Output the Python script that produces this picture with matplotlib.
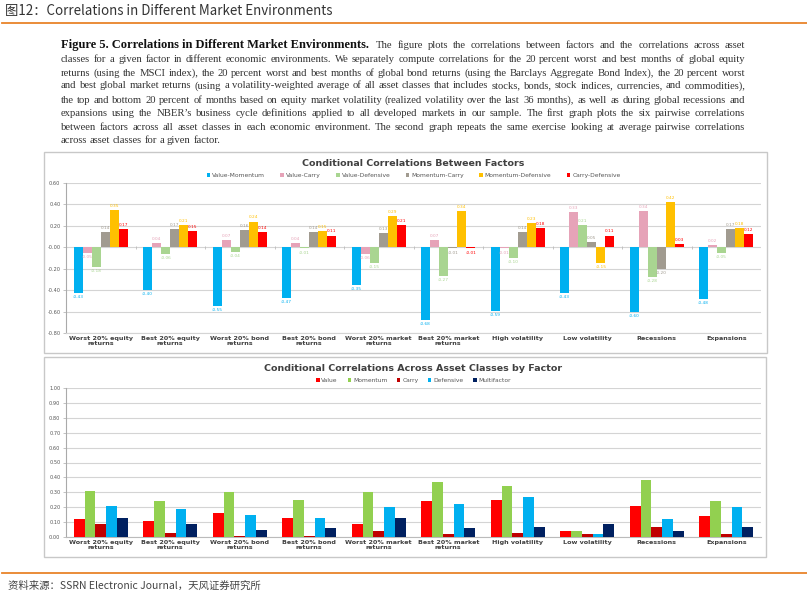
import numpy as np
import matplotlib
matplotlib.use("Agg")
import matplotlib.pyplot as plt
from matplotlib.patches import Rectangle
from matplotlib.lines import Line2D

# Data
categories = ["Worst 20% equity\nreturns", "Best 20% equity\nreturns", "Worst 20% bond\nreturns",
              "Best 20% bond\nreturns", "Worst 20% market\nreturns", "Best 20% market\nreturns",
              "High volatility", "Low volatility", "Recessions", "Expansions"]

pair_names = ["Value-Momentum", "Value-Carry", "Value-Defensive", "Momentum-Carry",
              "Momentum-Defensive", "Carry-Defensive"]
value_momentum = [-0.43, -0.40, -0.55, -0.47, -0.35, -0.68, -0.59, -0.43, -0.60, -0.48]
value_carry = [-0.05, 0.04, 0.07, 0.04, -0.06, 0.07, -0.01, 0.33, 0.34, 0.02]
value_defensive = [-0.18, -0.06, -0.04, -0.01, -0.15, -0.27, -0.10, 0.21, -0.28, -0.05]
momentum_carry = [0.14, 0.17, 0.16, 0.14, 0.13, -0.01, 0.14, 0.05, -0.20, 0.17]
momentum_defensive = [0.35, 0.21, 0.24, 0.15, 0.29, 0.34, 0.23, -0.15, 0.42, 0.18]
carry_defensive = [0.17, 0.15, 0.14, 0.11, 0.21, -0.01, 0.18, 0.11, 0.03, 0.12]

factor_names = ["Value", "Momentum", "Carry", "Defensive", "Multifactor"]
value_corr = [0.12, 0.11, 0.16, 0.13, 0.09, 0.24, 0.25, 0.04, 0.21, 0.14]
momentum_corr = [0.31, 0.24, 0.30, 0.25, 0.30, 0.37, 0.34, 0.04, 0.38, 0.24]
carry_corr = [0.09, 0.03, 0.005, 0.01, 0.04, 0.02, 0.03, 0.02, 0.07, 0.02]
defensive_corr = [0.21, 0.19, 0.15, 0.13, 0.20, 0.22, 0.27, 0.02, 0.12, 0.20]
multifactor_corr = [0.13, 0.09, 0.05, 0.06, 0.13, 0.06, 0.07, 0.09, 0.04, 0.07]

header = "图12：Correlations in Different Market Environments"
source = "资料来源：SSRN Electronic Journal，天风证券研究所"
para_bold = "Figure 5. Correlations in Different Market Environments."
para_lines = [
    "The figure plots the correlations between factors and the correlations across asset",
    "classes for a given factor in different economic environments. We separately compute correlations for the 20 percent worst and best months of global equity",
    "returns (using the MSCI index), the 20 percent worst and best months of global bond returns (using the Barclays Aggregate Bond Index), the 20 percent worst",
    "and best global market returns (using a volatility-weighted average of all asset classes that includes stocks, bonds, stock indices, currencies, and commodities),",
    "the top and bottom 20 percent of months based on equity market volatility (realized volatility over the last 36 months), as well as during global recessions and",
    "expansions using the NBER\u2019s business cycle definitions applied to all developed markets in our sample. The first graph plots the six pairwise correlations",
    "between factors across all asset classes in each economic environment. The second graph repeats the same exercise looking at average pairwise correlations",
    "across asset classes for a given factor.",
]

W, H = 807, 595
fig = plt.figure(figsize=(W / 100, H / 100), dpi=100)
fig.patch.set_facecolor("white")
cjk = ["Noto Sans CJK SC", "DejaVu Sans"]


def px(x, y):
    return x / W, 1 - y / H


def add_axes_px(x0, y0, x1, y1):
    return fig.add_axes([x0 / W, 1 - y1 / H, (x1 - x0) / W, (y1 - y0) / H])


# header and footer
fig.text(*px(5, 11), header, family=cjk, fontsize=9.6, color="#333333", va="center", ha="left")
fig.add_artist(Line2D([2 / W, 1], [1 - 23 / H] * 2, color="#E8832A", lw=1.3))
fig.add_artist(Line2D([2 / W, 1], [1 - 573 / H] * 2, color="#E8832A", lw=1.3))
fig.text(*px(8, 586), source, family=cjk, fontsize=7.5, color="#444444", va="center", ha="left")

# paragraph, justified word by word
fig.canvas.draw()
renderer = fig.canvas.get_renderer()
left_px, right_px = 61, 745
line_y = [45, 59, 73, 86, 100, 113, 127, 140]
serif = "Liberation Serif"


def width_of(t):
    return t.get_window_extent(renderer).width


bold_t = fig.text(*px(left_px, line_y[0]), para_bold, family=serif, fontsize=9.0,
                  weight="bold", color="#111111", va="center")
start0 = left_px + width_of(bold_t) + 7
for i, line in enumerate(para_lines):
    x_start = start0 if i == 0 else left_px
    words = line.split(" ")
    arts = [fig.text(0, 0, w, family=serif, fontsize=7.7, color="#333333", va="center") for w in words]
    widths = [width_of(a) for a in arts]
    if i < len(para_lines) - 1 and len(words) > 1:
        gap = (right_px - x_start - sum(widths)) / (len(words) - 1)
    else:
        gap = 2.6
    x = x_start
    for a, w in zip(arts, widths):
        a.set_position(px(x, line_y[i]))
        x += w + gap

# chart frames
for (x0, y0, x1, y1) in [(44, 152, 767, 353), (44, 357, 766, 557)]:
    fig.add_artist(Rectangle((x0 / W, 1 - y1 / H), (x1 - x0) / W, (y1 - y0) / H,
                             fill=False, edgecolor="#C8C8C8", lw=1.0))

label_font = dict(fontsize=4.6, color="#404040", weight="bold")
xs = np.arange(len(categories))

# top chart
ax1 = add_axes_px(66, 183, 761, 333)
pair_series = [value_momentum, value_carry, value_defensive, momentum_carry, momentum_defensive, carry_defensive]
pair_colors = ["#00B0F0", "#E6A3B8", "#A9D591", "#A19B90", "#FFC000", "#FF0000"]
bw = 0.13
for k, (vals, col, name) in enumerate(zip(pair_series, pair_colors, pair_names)):
    pos = xs + (k - 2.5) * bw
    ax1.bar(pos, vals, bw, color=col, label=name, zorder=3)
    for p, v in zip(pos, vals):
        off = 0.02 if v >= 0 else -0.02
        ax1.text(p, v + off, "%.2f" % v, fontsize=3.1, color=col, ha="center",
                 va="bottom" if v >= 0 else "top", zorder=4)
ax1.set_xlim(-0.5, len(categories) - 0.5)
ax1.set_ylim(-0.8, 0.6)
ax1.set_yticks(np.arange(-0.8, 0.61, 0.2))
ax1.set_yticklabels(["%.2f" % t for t in np.arange(-0.8, 0.61, 0.2)], fontsize=3.6, color="#555555")
ax1.yaxis.grid(True, color="#D4D4D4", lw=0.8, zorder=0)
ax1.set_xticks(xs)
ax1.set_xticklabels(categories, **label_font, linespacing=1.0)
ax1.tick_params(axis="x", length=0, pad=2)
ax1.tick_params(axis="y", length=2, width=0.5, color="#AAAAAA", pad=2)
for s in ["top", "right"]:
    ax1.spines[s].set_visible(False)
ax1.spines["left"].set_color("#AAAAAA")
ax1.spines["bottom"].set_color("#D4D4D4")
ax1.vlines(np.arange(0.5, len(categories) - 0.5, 1), -0.012, 0.012, color="#BBBBBB", lw=0.6, zorder=2)
ax1.set_title("Conditional Correlations Between Factors", fontsize=6.8, weight="bold",
              color="#404040", pad=12.5)
ax1.legend(loc="lower center", bbox_to_anchor=(0.5, 1.0), ncol=6, frameon=False, fontsize=4.3,
           handlelength=0.6, handleheight=0.6, handletextpad=0.3, columnspacing=2.6,
           labelcolor="#555555", borderaxespad=0.45)

# bottom chart
ax2 = add_axes_px(66, 388, 761, 537)
fac_series = [value_corr, momentum_corr, carry_corr, defensive_corr, multifactor_corr]
fac_colors = ["#FF0000", "#92D050", "#C00000", "#00B0F0", "#002060"]
bw2 = 0.155
for k, (vals, col, name) in enumerate(zip(fac_series, fac_colors, factor_names)):
    ax2.bar(xs + (k - 2) * bw2, vals, bw2, color=col, label=name, zorder=3)
ax2.set_xlim(-0.5, len(categories) - 0.5)
ax2.set_ylim(0, 1.0)
ax2.set_yticks(np.arange(0, 1.01, 0.1))
ax2.set_yticklabels(["%.2f" % t for t in np.arange(0, 1.01, 0.1)], fontsize=3.6, color="#555555")
ax2.yaxis.grid(True, color="#D4D4D4", lw=0.8, zorder=0)
ax2.set_xticks(xs)
ax2.set_xticklabels(categories, **label_font, linespacing=1.0)
ax2.tick_params(axis="x", length=0, pad=2)
ax2.tick_params(axis="y", length=2, width=0.5, color="#AAAAAA", pad=2)
for s in ["top", "right"]:
    ax2.spines[s].set_visible(False)
ax2.spines["left"].set_color("#AAAAAA")
ax2.spines["bottom"].set_color("#BBBBBB")
ax2.set_title("Conditional Correlations Across Asset Classes by Factor", fontsize=6.8,
              weight="bold", color="#404040", pad=12.5)
ax2.legend(loc="lower center", bbox_to_anchor=(0.5, 1.0), ncol=5, frameon=False, fontsize=4.3,
           handlelength=0.6, handleheight=0.6, handletextpad=0.3, columnspacing=1.6,
           labelcolor="#555555", borderaxespad=0.45)

fig.savefig("out.png", dpi=100, facecolor="white")
